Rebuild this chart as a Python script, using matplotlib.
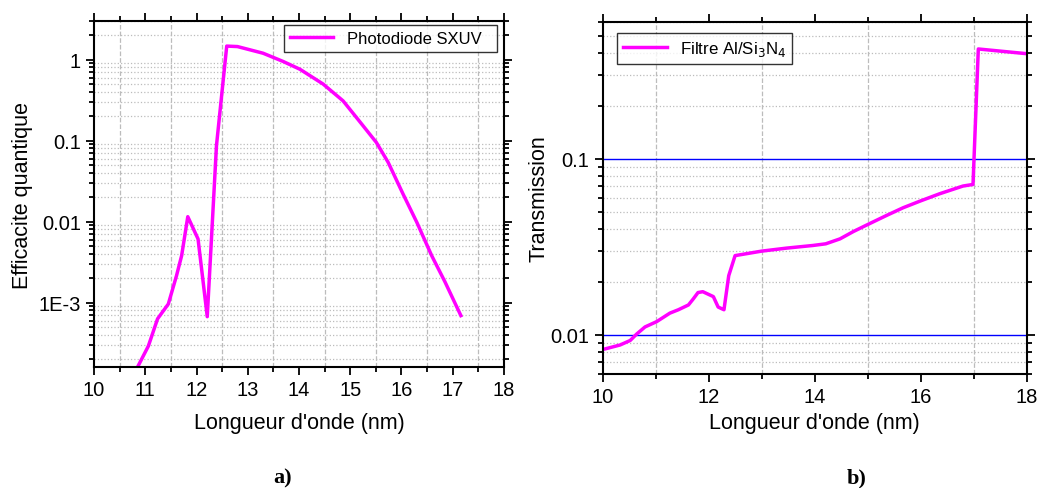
import matplotlib
matplotlib.use("Agg")
import matplotlib.pyplot as plt
from matplotlib.ticker import FixedLocator, FixedFormatter, LogLocator, MultipleLocator, NullFormatter

plt.rcParams['font.family'] = ['Liberation Sans', 'DejaVu Sans']

# a) photodiode SXUV quantum efficiency
wl_a = [10.85, 11.06, 11.24, 11.45, 11.61, 11.71, 11.83, 12.03, 12.21, 12.39, 12.59,
        12.8, 13.3, 13.69, 14.02, 14.47, 14.86, 15.16, 15.51, 15.74, 16.03, 16.3,
        16.59, 16.85, 17.16]
qe_a = [1.6e-4, 2.9e-4, 6.3e-4, 9.6e-4, 2.15e-3, 3.8e-3, 0.0115, 6.1e-3, 6.7e-4, 0.087, 1.47,
        1.45, 1.2, 0.95, 0.76, 0.50, 0.31, 0.18, 0.095, 0.054, 0.022, 0.0098,
        3.8e-3, 1.8e-3, 6.9e-4]

# b) Al/Si3N4 filter transmission
wl_b = [10.0, 10.33, 10.52, 10.64, 10.8, 11.02, 11.27, 11.43, 11.62, 11.71, 11.8, 11.89,
        12.09, 12.18, 12.29, 12.38, 12.5, 13.0, 13.47, 13.97, 14.21, 14.48, 14.73, 15.0,
        15.36, 15.67, 15.99, 16.36, 16.8, 16.99, 17.09, 18.0]
tr_b = [0.00826, 0.00877, 0.0093, 0.0101, 0.0111, 0.0119, 0.0133, 0.0139, 0.0148, 0.016,
        0.0174, 0.0176, 0.0165, 0.0144, 0.0139, 0.0217, 0.0282, 0.0299, 0.0311, 0.0322,
        0.0329, 0.0351, 0.0386, 0.0423, 0.0477, 0.0527, 0.0575, 0.0633, 0.07, 0.0715,
        0.42, 0.395]

fig = plt.figure(figsize=(10.39, 4.89), dpi=100)
ax1 = fig.add_axes([0.0905, 0.2474, 0.3945, 0.7076])
ax2 = fig.add_axes([0.580, 0.2331, 0.408, 0.7205])

mag = '#ff00ff'
grid_kw = dict(color='#bcbcbc', linewidth=0.9)

for ax in (ax1, ax2):
    ax.set_yscale('log')
    for s in ax.spines.values():
        s.set_linewidth(1.5)
    ax.tick_params(which='both', direction='out', top=True, right=True, labelsize=14.5, width=1.3)
    ax.tick_params(which='major', length=6)
    ax.tick_params(which='minor', length=3.5)
    ax.yaxis.set_minor_locator(LogLocator(base=10, subs=range(2, 10), numticks=20))
    ax.yaxis.set_minor_formatter(NullFormatter())
    ax.grid(True, which='minor', axis='y', linestyle=':', **grid_kw)
    ax.grid(True, which='minor', axis='x', linestyle='--', **grid_kw)

# panel a
ax1.plot(wl_a, qe_a, color=mag, lw=2.5, label='Photodiode SXUV  ')
ax1.set_xlim(10, 18)
ax1.set_ylim(1.6e-4, 3)
ax1.xaxis.set_major_locator(MultipleLocator(1))
ax1.xaxis.set_minor_locator(MultipleLocator(0.5))
ax1.yaxis.set_major_locator(FixedLocator([1e-3, 1e-2, 1e-1, 1]))
ax1.yaxis.set_major_formatter(FixedFormatter(['1E-3', '0.01', '0.1', '1']))
ax1.set_xlabel("Longueur d'onde (nm)", fontsize=15.5, labelpad=9)
ax1.set_ylabel('Efficacite quantique', fontsize=15.5, labelpad=4)
ax1.legend(loc='upper right', bbox_to_anchor=(0.982, 0.988), fontsize=12, frameon=True,
           fancybox=False, edgecolor='black', borderaxespad=0.0, handlelength=2.6,
           borderpad=0.35)

# panel b
ax2.plot(wl_b, tr_b, color=mag, lw=2.5, label='Filtre Al/Si$_3$N$_4$')
ax2.set_xlim(10, 18)
ax2.set_ylim(0.006, 0.6)
ax2.xaxis.set_major_locator(MultipleLocator(2))
ax2.xaxis.set_minor_locator(MultipleLocator(1))
ax2.yaxis.set_major_locator(FixedLocator([0.01, 0.1]))
ax2.yaxis.set_major_formatter(FixedFormatter(['0.01', '0.1']))
ax2.grid(True, which='major', axis='y', color='blue', linestyle='-', linewidth=1.0)
ax2.set_xlabel("Longueur d'onde (nm)", fontsize=15.5)
ax2.set_ylabel('Transmission', fontsize=15.5, labelpad=1)
ax2.legend(loc='upper left', bbox_to_anchor=(0.033, 0.967), fontsize=12.2, frameon=True,
           fancybox=False, edgecolor='black', borderaxespad=0.0, handlelength=2.6,
           borderpad=0.35)

fig.text(0.2724, 0.012, 'a)', fontsize=16, fontweight='bold', family='Liberation Serif', ha='center')
fig.text(0.8248, 0.012, 'b)', fontsize=16, fontweight='bold', family='Liberation Serif', ha='center')

fig.savefig('out.png', dpi=100)
